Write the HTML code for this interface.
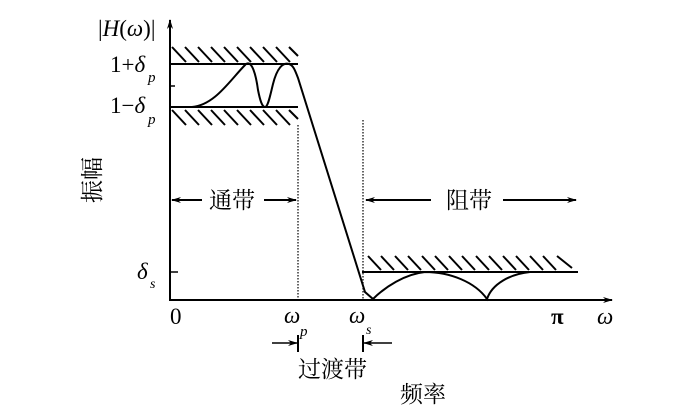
<!DOCTYPE html>
<html><head><meta charset="utf-8"><style>
html,body{margin:0;padding:0;background:#fff;}
svg{display:block;}
.t{font-family:"Liberation Serif","Noto Serif CJK SC",serif;fill:#000;}
.c{font-family:"Liberation Serif","Noto Serif CJK SC","Noto Sans CJK SC",serif;fill:#000;}
</style></head><body>
<svg width="700" height="418" viewBox="0 0 700 418" xmlns="http://www.w3.org/2000/svg">
<defs>
<marker id="ah" markerWidth="10" markerHeight="8" refX="9" refY="4" orient="auto" markerUnits="userSpaceOnUse">
<path d="M0,1 L10,4 L0,7 L3,4 Z" fill="#000"/></marker>
</defs>
<g stroke="#000" fill="none">
<line x1="170" y1="300" x2="170" y2="20" stroke-width="2" marker-end="url(#ah)"/>
<line x1="169" y1="300" x2="612" y2="300" stroke-width="2" marker-end="url(#ah)"/>
<line x1="170" y1="86" x2="175" y2="86" stroke-width="1.5"/>
<line x1="170" y1="272" x2="178" y2="272" stroke-width="1.5"/>
<line x1="170" y1="64" x2="298" y2="64" stroke-width="2"/>
<line x1="170" y1="107" x2="298" y2="107" stroke-width="2"/>
<line x1="362" y1="272" x2="578" y2="272" stroke-width="2"/>
<g stroke-width="2">
<line x1="172" y1="47" x2="186" y2="62"/><line x1="185" y1="47" x2="199" y2="62"/><line x1="198" y1="47" x2="212" y2="62"/><line x1="211" y1="47" x2="225" y2="62"/><line x1="224" y1="47" x2="238" y2="62"/><line x1="237" y1="47" x2="251" y2="62"/><line x1="250" y1="47" x2="264" y2="62"/><line x1="263" y1="47" x2="277" y2="62"/><line x1="276" y1="47" x2="290" y2="62"/><line x1="289" y1="47" x2="298" y2="56"/>
<line x1="172" y1="110" x2="186" y2="125"/><line x1="185" y1="110" x2="199" y2="125"/><line x1="198" y1="110" x2="212" y2="125"/><line x1="211" y1="110" x2="225" y2="125"/><line x1="224" y1="110" x2="238" y2="125"/><line x1="237" y1="110" x2="251" y2="125"/><line x1="250" y1="110" x2="264" y2="125"/><line x1="263" y1="110" x2="277" y2="125"/><line x1="276" y1="110" x2="290" y2="125"/><line x1="289" y1="110" x2="298" y2="119"/>
<line x1="368" y1="256" x2="381" y2="270"/><line x1="381" y1="256" x2="394" y2="270"/><line x1="395" y1="256" x2="408" y2="270"/><line x1="408" y1="256" x2="421" y2="270"/><line x1="422" y1="256" x2="435" y2="270"/><line x1="435" y1="256" x2="448" y2="270"/><line x1="449" y1="256" x2="462" y2="270"/><line x1="462" y1="256" x2="475" y2="270"/><line x1="476" y1="256" x2="489" y2="270"/><line x1="489" y1="256" x2="502" y2="270"/><line x1="503" y1="256" x2="516" y2="270"/><line x1="516" y1="256" x2="529" y2="270"/><line x1="530" y1="256" x2="543" y2="270"/><line x1="543" y1="256" x2="556" y2="270"/><line x1="557" y1="256" x2="572" y2="268"/>
</g>
<line x1="298" y1="125" x2="298" y2="300" stroke-width="1.2" stroke-dasharray="1.5,1.5"/>
<line x1="363" y1="120" x2="363" y2="300" stroke-width="1.2" stroke-dasharray="1.5,1.5"/>
<path d="M192,107 C215,105 230,80 246,64 C252,60 256,75 258,90 C260,100 262,107 265,107 C268,107 270,96 273,84 C277,68 283,62 289,64 C293,65 295,70 298,78 L365,292 L373,299 C385,287 405,274 425,272 C450,272 475,282 487,299 C492,284 510,274 530,272" stroke-width="2"/>
<line x1="202" y1="200" x2="172" y2="200" stroke-width="2" marker-end="url(#ah)"/>
<line x1="264" y1="200" x2="296" y2="200" stroke-width="2" marker-end="url(#ah)"/>
<line x1="431" y1="200" x2="366" y2="200" stroke-width="2" marker-end="url(#ah)"/>
<line x1="503" y1="200" x2="576" y2="200" stroke-width="2" marker-end="url(#ah)"/>
<line x1="272" y1="343" x2="297" y2="343" stroke-width="1.5" marker-end="url(#ah)"/>
<line x1="298" y1="335" x2="298" y2="352" stroke-width="2"/>
<line x1="392" y1="343" x2="364" y2="343" stroke-width="1.5" marker-end="url(#ah)"/>
<line x1="363" y1="335" x2="363" y2="352" stroke-width="2"/>
</g>
<text class="t" x="98" y="36" font-size="23">|<tspan font-style="italic">H</tspan>(<tspan font-style="italic">ω</tspan>)|</text>
<text class="t" x="110" y="72" font-size="23">1+<tspan font-style="italic">δ</tspan></text>
<text class="t" x="148" y="82" font-size="15" font-style="italic">p</text>
<text class="t" x="110" y="113" font-size="23">1−<tspan font-style="italic">δ</tspan></text>
<text class="t" x="148" y="124" font-size="15" font-style="italic">p</text>
<text class="t" x="137" y="279" font-size="23" font-style="italic">δ</text>
<text class="t" x="150" y="288" font-size="14" font-style="italic">s</text>
<text class="t" x="170" y="324" font-size="23">0</text>
<text class="t" x="284" y="323" font-size="23" font-style="italic">ω</text>
<text class="t" x="300" y="336" font-size="15" font-style="italic">p</text>
<text class="t" x="349" y="323" font-size="23" font-style="italic">ω</text>
<text class="t" x="366" y="334" font-size="14" font-style="italic">s</text>
<text class="t" x="551" y="324" font-size="23" font-weight="bold">π</text>
<text class="t" x="597" y="324" font-size="23" font-style="italic">ω</text>
<text class="c" x="209" y="208" font-size="23">通带</text>
<text class="c" x="446" y="208" font-size="23">阻带</text>
<text class="c" x="298" y="377" font-size="23">过渡带</text>
<text class="c" x="400" y="402" font-size="23">频率</text>
<text class="c" font-size="23" transform="translate(100,203) rotate(-90)">振幅</text>
</svg>
</body></html>
